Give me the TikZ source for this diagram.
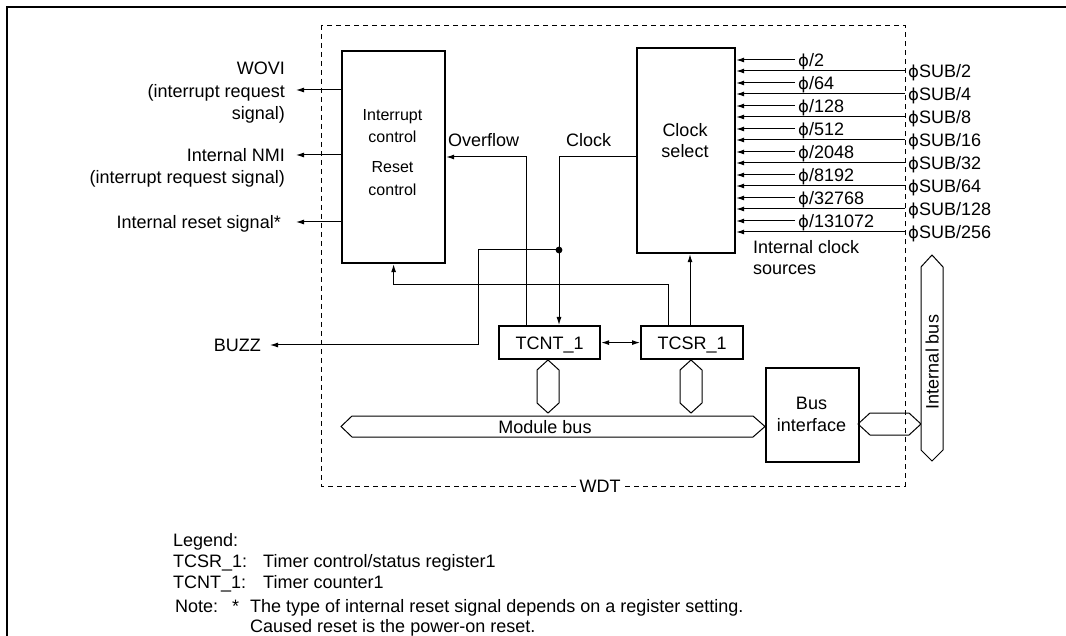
\documentclass[tikz,border=0pt]{standalone}
\usepackage{fontspec}
\setmainfont{Liberation Sans}
\newfontfamily\phifont{DejaVu Sans}
\usetikzlibrary{arrows.meta}
\newcommand{\ph}{{\phifont\fontsize{16.5}{19}\selectfont ϕ}}
\tikzset{
  lbl/.style={font=\fontsize{18}{21.6}\selectfont, inner sep=0pt, text height=13pt, text depth=0pt},
  sml/.style={font=\fontsize{16}{19}\selectfont, inner sep=0pt, text height=11.5pt, text depth=0pt},
  box/.style={draw, line width=2.2pt, inner sep=0pt},
  wire/.style={line width=1pt},
  arr/.style={wire, -{Latex[length=8pt,width=5pt]}},
  darr/.style={wire, {Latex[length=8pt,width=5pt]}-{Latex[length=8pt,width=5pt]}},
  bus/.style={draw, line width=1pt, fill=white},
  wdtbox/.style={draw, line width=0.9pt, dash pattern=on 5pt off 4pt},
  frame/.style={draw, line width=2pt}
}
\begin{document}
\begin{tikzpicture}[x=1pt,y=-1pt]
\useasboundingbox (0,0) rectangle (1066,636);
% outer frame (top and left visible)
\draw[frame] (7,636) -- (7,7) -- (1066,7);
% WDT dashed boundary
\draw[wdtbox] (321,25) rectangle (905,486);
\node[lbl, fill=white, inner xsep=2pt] (wdt) at (600,486) {WDT};

% blocks
\node[box, minimum width=103pt, minimum height=212pt, anchor=north west] (irc) at (341,50) {};
\node[sml] (irc1) at (392.5,115) {Interrupt};
\node[sml] (irc2) at (392.5,137) {control};
\node[sml] (irc3) at (392.5,167) {Reset};
\node[sml] (irc4) at (392.5,190) {control};

\node[box, minimum width=98pt, minimum height=205pt, anchor=north west] (cs) at (636,47) {};
\node[lbl] (cs1) at (685,130) {Clock};
\node[lbl] (cs2) at (685,151) {select};

\node[box, lbl, minimum width=101pt, minimum height=33pt, anchor=north west] (tcnt) at (498,325) {TCNT\_1};
\node[box, lbl, minimum width=102pt, minimum height=33pt, anchor=north west] (tcsr) at (640,325) {TCSR\_1};
\node[box, minimum width=93pt, minimum height=94pt, anchor=north west] (bif) at (765,367) {};
\node[lbl] (bif1) at (811.5,403) {Bus};
\node[lbl] (bif2) at (811.5,425) {interface};

% left output signals
\node[lbl, anchor=east] (wovi1) at (285,68) {WOVI};
\node[lbl, anchor=east] (wovi2) at (285,91) {(interrupt request};
\node[lbl, anchor=east] (wovi3) at (285,113) {signal)};
\node[lbl, anchor=east] (nmi1) at (285,155) {Internal NMI};
\node[lbl, anchor=east] (nmi2) at (285,177) {(interrupt request signal)};
\node[lbl, anchor=east] (rst) at (281,222) {Internal reset signal*};
\node[lbl, anchor=east] (buzz) at (261,345) {BUZZ};

\draw[arr] (irc.west |- 0,90) -- ++(-45,0);
\draw[arr] (irc.west |- 0,155) -- ++(-45,0);
\draw[arr] (irc.west |- 0,222) -- ++(-45,0);

% internal wiring
\coordinate (ovx) at (526,157);
\coordinate (clk) at (559,157);
\coordinate (dot) at (559,250);
\coordinate (bz) at (478,345);
\coordinate (rs) at (668,285);
\coordinate (csx) at (690,0);
\node[lbl, anchor=west] (ovl) at (448,140) {Overflow};
\node[lbl, anchor=west] (clkl) at (566,140) {Clock};

\draw[arr] (tcnt.north -| ovx) |- (irc.east |- ovx);
\draw[arr] (cs.west |- clk) -| (tcnt.north -| clk);
\fill (dot) circle (3.4pt);
\draw[arr] (dot) -| (bz) -- ([xshift=9pt]buzz.east);
\draw[arr] (tcsr.north -| rs) -- (rs) -| (irc.south);
\draw[arr] (tcsr.north -| csx) -- (cs.south -| csx);
\draw[darr] (tcnt.east) -- (tcsr.west);

% clock sources
\foreach \k/\a/\b in {0/2/2, 1/64/4, 2/128/8, 3/512/16, 4/2048/32, 5/8192/64, 6/32768/128, 7/131072/256}{
  \pgfmathsetmacro{\ya}{60+23*\k}
  \pgfmathsetmacro{\yb}{71+23*\k}
  \node[lbl, anchor=west] (pa\k) at (798,\ya) {\ph/\a};
  \node[lbl, anchor=west] (pb\k) at (908,\yb) {\ph SUB/\b};
  \draw[arr] (pa\k.west) ++(-3,0) -- (cs.east |- pa\k.west);
  \draw[arr] (pb\k.west) ++(-3,0) -- (cs.east |- pb\k.west);
}
\node[lbl, anchor=west] (ics1) at (753,247) {Internal clock};
\node[lbl, anchor=west] (ics2) at (753,268) {sources};

% buses
\draw[bus] (548,360) -- (559,370) -- (559,403) -- (548,413) -- (537,403) -- (537,370) -- cycle;
\draw[bus] (691,360) -- (702,370) -- (702,403) -- (691,413) -- (680,403) -- (680,370) -- cycle;
\draw[bus] (341,426.5) -- (352,416) -- (753,416) -- (765,426.5) -- (753,437) -- (352,437) -- cycle;
\node[lbl] (mbus) at (545,426.5) {Module bus};
\draw[line width=1pt] (858,424) -- (870,413) -- (909,413) -- (921,424) -- (909,435) -- (870,435) -- cycle;
\draw[bus] (932,255) -- (943,267) -- (943,450) -- (932,461) -- (921,450) -- (921,267) -- cycle;
\node[lbl, rotate=90] (ibus) at (932,362) {Internal bus};

% legend
\node[lbl, anchor=west] (lg0) at (173,540) {Legend:};
\node[lbl, anchor=west] (lg1) at (173,561) {TCSR\_1:};
\node[lbl, anchor=west] (lg1t) at (263,561) {Timer control/status register1};
\node[lbl, anchor=west] (lg2) at (173,582) {TCNT\_1:};
\node[lbl, anchor=west] (lg2t) at (263,582) {Timer counter1};
\node[lbl, anchor=west] (nt0) at (175,606) {Note:};
\node[lbl, anchor=west] (nt1) at (232,606) {*};
\node[lbl, anchor=west] (nt2) at (250,606) {The type of internal reset signal depends on a register setting.};
\node[lbl, anchor=west] (nt3) at (250,626) {Caused reset is the power-on reset.};
\end{tikzpicture}
\end{document}
